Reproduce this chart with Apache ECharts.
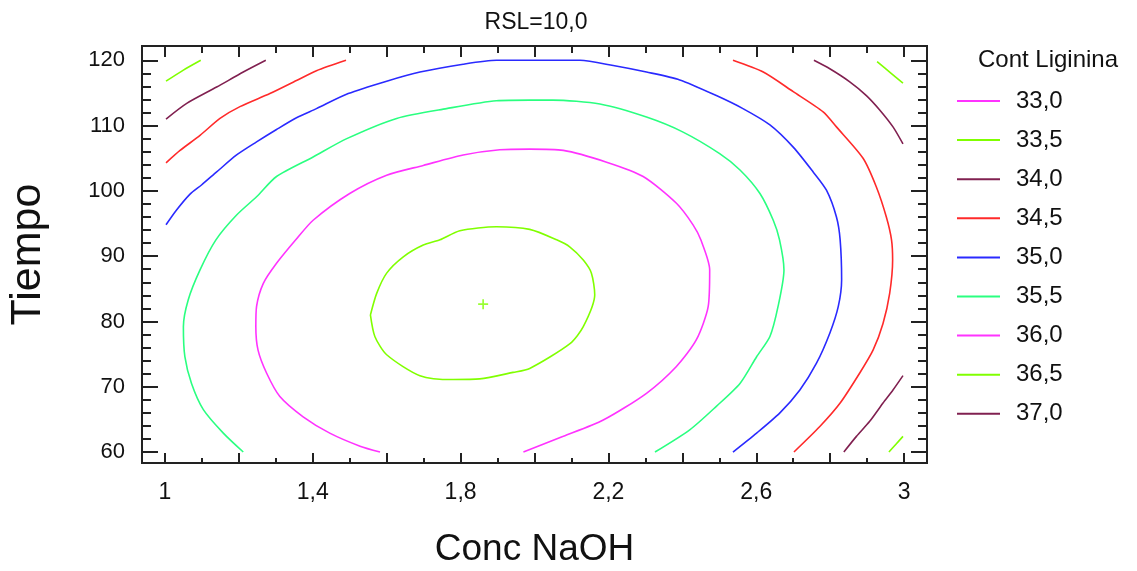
<!DOCTYPE html>
<html>
<head>
<meta charset="utf-8">
<script src="https://cdn.jsdelivr.net/npm/echarts@6/dist/echarts.min.js"></script>
<style>
  html, body { margin: 0; padding: 0; background: #fff; }
  #chart { width: 1137px; height: 571px; }
</style>
</head>
<body>
<div id="chart"></div>
<script>
// contour levels (legend) and their colours
const levels = ["33,0", "33,5", "34,0", "34,5", "35,0", "35,5", "36,0", "36,5", "37,0"];
const levelColors = ["#ff33ff", "#80ff00", "#802050", "#ff2a2a", "#2a2aff", "#2aff80", "#ff33ff", "#80ff00", "#802050"];

// tick labels
const xLabels = [1, 1.4, 1.8, 2.2, 2.6, 3];
const yLabels = [60, 70, 80, 90, 100, 110, 120];

// contour lines, [Conc NaOH, Tiempo]
const c335a = [[1.003, 116.8], [1.050, 118.5], [1.097, 120.0]];
const c335b = [[2.927, 119.8], [2.965, 118.0], [2.997, 116.5]];
const c335c = [[2.959, 60.0], [2.978, 61.2], [2.997, 62.4]];

const c340a = [[1.003, 111.0], [1.059, 113.4], [1.140, 115.9], [1.212, 118.2], [1.273, 120.0]];
const c340b = [[2.756, 120.0], [2.799, 118.7], [2.853, 116.7], [2.898, 114.6], [2.934, 112.4], [2.970, 109.8], [2.997, 107.2]];
const c340c = [[2.837, 60.0], [2.871, 62.4], [2.907, 64.7], [2.943, 67.5], [2.970, 69.5], [2.997, 71.7]];

const c345a = [[1.003, 104.3], [1.041, 106.2], [1.095, 108.5], [1.149, 111.1], [1.203, 112.9], [1.284, 114.9],
  [1.356, 116.9], [1.410, 118.4], [1.490, 120.0]];
const c345b = [[2.537, 120.0], [2.619, 118.2], [2.700, 115.2], [2.781, 112.1], [2.817, 109.8], [2.889, 105.0],
  [2.925, 100.6], [2.952, 96.0], [2.966, 92.5], [2.969, 89.4], [2.961, 84.3], [2.943, 79.7], [2.916, 75.6],
  [2.880, 72.1], [2.827, 67.5], [2.772, 63.9], [2.702, 60.0]];

const c350 = [[1.003, 94.8], [1.032, 97.1], [1.068, 99.5], [1.099, 100.9], [1.140, 102.9], [1.194, 105.5],
  [1.248, 107.5], [1.302, 109.4], [1.356, 111.2], [1.410, 112.6], [1.496, 114.9], [1.600, 116.8], [1.690, 118.2],
  [1.807, 119.4], [1.897, 120.0], [1.987, 120.0], [2.123, 120.0], [2.213, 119.2], [2.303, 118.2], [2.393, 117.0],
  [2.492, 114.6], [2.564, 112.6], [2.637, 110.1], [2.700, 106.7], [2.754, 102.9], [2.790, 100.1], [2.817, 96.0],
  [2.827, 92.5], [2.831, 86.4], [2.822, 82.3], [2.799, 78.2], [2.763, 73.6], [2.718, 69.5], [2.664, 66.0],
  [2.601, 62.9], [2.537, 60.0]];

const c355 = [[1.212, 60.0], [1.158, 62.9], [1.104, 66.5], [1.072, 70.5], [1.054, 74.6], [1.050, 79.2],
  [1.063, 83.3], [1.095, 87.9], [1.138, 92.5], [1.194, 96.3], [1.248, 99.1], [1.302, 102.2], [1.401, 105.2],
  [1.492, 108.0], [1.627, 111.1], [1.762, 112.6], [1.897, 113.8], [1.987, 113.9], [2.050, 113.9], [2.177, 113.3],
  [2.303, 111.3], [2.402, 109.0], [2.501, 105.7], [2.556, 103.2], [2.610, 99.6], [2.646, 95.5], [2.663, 92.5],
  [2.675, 87.9], [2.659, 82.3], [2.637, 77.7], [2.601, 74.6], [2.556, 70.5], [2.492, 67.0], [2.420, 63.4],
  [2.326, 60.0]];

const c360 = [[1.582, 60.0], [1.528, 60.9], [1.446, 62.9], [1.374, 65.4], [1.311, 68.5], [1.275, 72.1],
  [1.252, 75.6], [1.246, 79.2], [1.248, 82.3], [1.266, 85.8], [1.302, 88.9], [1.354, 92.5], [1.401, 95.5],
  [1.500, 99.6], [1.600, 102.4], [1.699, 103.9], [1.807, 105.5], [1.906, 106.3], [1.987, 106.4], [2.078, 106.2],
  [2.195, 104.4], [2.294, 102.2], [2.384, 98.1], [2.429, 94.8], [2.450, 92.5], [2.474, 87.9], [2.470, 82.3],
  [2.438, 77.2], [2.384, 73.1], [2.303, 69.0], [2.186, 64.9], [2.078, 62.4], [1.970, 60.0]];

const c365 = [[1.556, 81.0], [1.573, 84.3], [1.600, 87.4], [1.645, 89.9], [1.699, 91.7], [1.744, 92.5],
  [1.798, 93.9], [1.897, 94.5], [1.987, 94.1], [2.060, 92.5], [2.096, 91.4], [2.132, 89.4], [2.154, 87.4],
  [2.163, 84.1], [2.132, 79.2], [2.096, 76.6], [1.987, 72.8], [1.942, 72.2], [1.852, 71.2], [1.780, 71.1],
  [1.690, 71.7], [1.600, 74.9], [1.568, 77.7], [1.556, 81.0]];

// optimum marker
const optimum = [[1.861, 82.65]];

const contours = {
  "33,0": [],
  "33,5": [c335a, c335b, c335c],
  "34,0": [c340a, c340b, c340c],
  "34,5": [c345a, c345b],
  "35,0": [c350],
  "35,5": [c355],
  "36,0": [c360],
  "36,5": [c365],
  "37,0": []
};

const XMIN = 0.938, XMAX = 3.062, YMIN = 58.32, YMAX = 122.19;
const sans = "'Liberation Sans', Arial, sans-serif";

function range(a, b, step) {
  let out = [];
  for (let v = a; v <= b + 1e-9; v += step) out.push(Math.round(v * 100) / 100);
  return out;
}
function fmt(v) {
  return String(v).replace(".", ",");
}

function axisBase(extra) {
  return Object.assign({
    type: "value",
    splitLine: { show: false },
    axisLine: { show: true, onZero: false, lineStyle: { color: "#222", width: 2 } },
    axisLabel: { show: false },
    axisTick: { show: true, inside: true, lineStyle: { color: "#222", width: 2 } }
  }, extra);
}
function ticks(len, values) {
  return { show: true, inside: true, length: len, customValues: values, lineStyle: { color: "#222", width: 2 } };
}

const xMajor = range(1, 3, 0.2);
const xMinor = range(1.1, 2.9, 0.2);
const yMajor = range(60, 120, 10);
const yMinor = range(62, 118, 2);

let xAxis = [
  axisBase({
    position: "bottom", min: XMIN, max: XMAX,
    name: "Conc NaOH", nameLocation: "middle", nameGap: 68,
    nameTextStyle: { fontFamily: sans, fontSize: 37, color: "#111" },
    axisTick: ticks(10, xMajor),
    axisLabel: { show: true, customValues: xLabels, margin: 18, formatter: fmt,
      fontFamily: sans, fontSize: 23, color: "#111" }
  }),
  axisBase({ position: "bottom", min: XMIN, max: XMAX, axisTick: ticks(5, xMinor) }),
  axisBase({ position: "top", min: XMIN, max: XMAX, axisTick: ticks(11, xMajor) }),
  axisBase({ position: "top", min: XMIN, max: XMAX, axisTick: ticks(7, xMinor) })
];

let yAxis = [
  axisBase({
    position: "left", min: YMIN, max: YMAX,
    name: "Tiempo", nameLocation: "middle", nameGap: 92, nameRotate: 90,
    nameTextStyle: { fontFamily: sans, fontSize: 43, color: "#111" },
    axisTick: ticks(16, yMajor),
    axisLabel: { show: true, customValues: yLabels, margin: 17, fontFamily: sans, fontSize: 22, color: "#111" }
  }),
  axisBase({ position: "left", min: YMIN, max: YMAX, axisTick: ticks(9, yMinor) }),
  axisBase({ position: "right", min: YMIN, max: YMAX, axisTick: ticks(16, yMajor) }),
  axisBase({ position: "right", min: YMIN, max: YMAX, axisTick: ticks(9, yMinor) })
];

let series = [];
levels.forEach(function (name, i) {
  let parts = contours[name];
  if (parts.length === 0) parts = [[]];
  parts.forEach(function (pts) {
    series.push({
      name: name,
      type: "line",
      xAxisIndex: 0,
      yAxisIndex: 0,
      data: pts,
      showSymbol: false,
      smooth: 0.25,
      silent: true,
      animation: false,
      itemStyle: { color: levelColors[i] },
      lineStyle: { color: levelColors[i], width: 1.6 }
    });
  });
});
series.push({
  type: "scatter",
  data: optimum,
  symbol: "path://M5,0 L7,0 L7,5 L12,5 L12,7 L7,7 L7,12 L5,12 L5,7 L0,7 L0,5 L5,5 Z",
  symbolSize: 10,
  itemStyle: { color: "#80ff00" },
  silent: true,
  animation: false
});

let chart = echarts.init(document.getElementById("chart"));
chart.setOption({
  animation: false,
  backgroundColor: "#fff",
  grid: { left: 142, right: 210, top: 46, bottom: 108, outerBoundsMode: "none" },
  xAxis: xAxis,
  yAxis: yAxis,
  legend: {
    data: levels,
    orient: "vertical",
    left: 957,
    top: 86,
    padding: 0,
    icon: "rect",
    itemWidth: 43,
    itemHeight: 2,
    itemGap: 9.1,
    selectedMode: false,
    textStyle: { fontFamily: sans, fontSize: 24, lineHeight: 30, color: "#111", padding: [0, 0, 0, 11] }
  },
  graphic: [
    { type: "text", x: 536, y: 23, style: { text: "RSL=10,0", font: "23px " + sans, fill: "#111",
      textAlign: "center", textVerticalAlign: "middle" } },
    { type: "text", x: 1048, y: 60, style: { text: "Cont Liginina", font: "24px " + sans, fill: "#111",
      textAlign: "center", textVerticalAlign: "middle" } }
  ],
  series: series
});
</script>
</body>
</html>
